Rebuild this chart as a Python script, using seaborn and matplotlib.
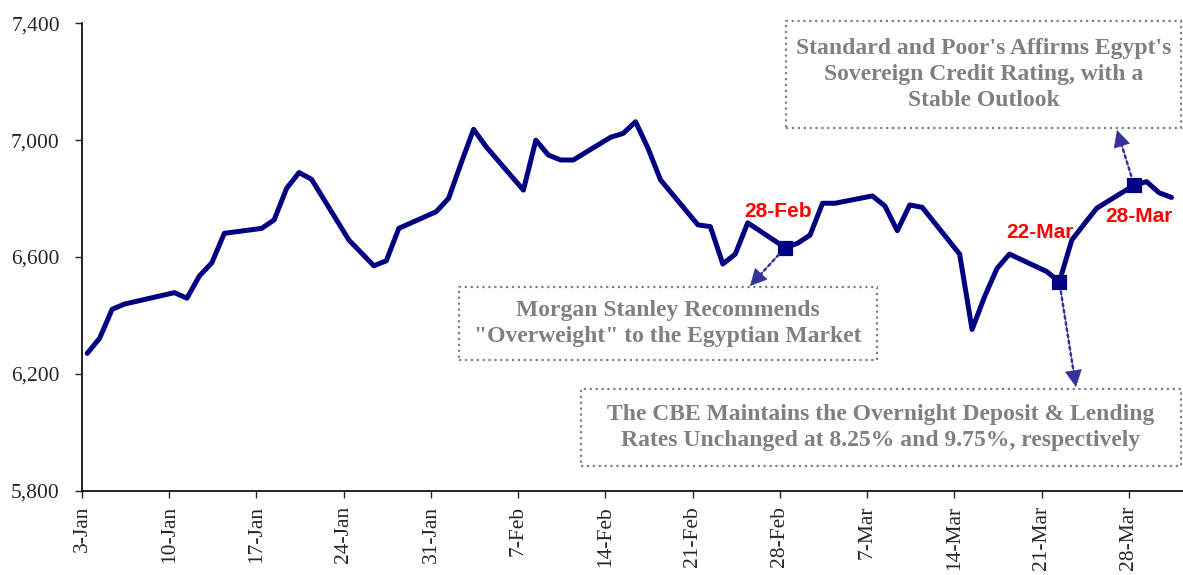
import pandas as pd
import matplotlib.pyplot as plt
from matplotlib.patches import Rectangle
import seaborn as sns

# EGX30 daily closes, Jan-Mar 2010
dates = ['2010-01-03', '2010-01-04', '2010-01-05', '2010-01-06', '2010-01-10',
         '2010-01-11', '2010-01-12', '2010-01-13', '2010-01-14', '2010-01-17',
         '2010-01-18', '2010-01-19', '2010-01-20', '2010-01-21', '2010-01-24',
         '2010-01-26', '2010-01-27', '2010-01-28', '2010-01-31', '2010-02-01',
         '2010-02-02', '2010-02-03', '2010-02-04', '2010-02-07', '2010-02-08',
         '2010-02-09', '2010-02-10', '2010-02-11', '2010-02-14', '2010-02-15',
         '2010-02-16', '2010-02-17', '2010-02-18', '2010-02-21', '2010-02-22',
         '2010-02-23', '2010-02-24', '2010-02-25', '2010-02-28', '2010-03-01',
         '2010-03-02', '2010-03-03', '2010-03-04', '2010-03-07', '2010-03-08',
         '2010-03-09', '2010-03-10', '2010-03-11', '2010-03-14', '2010-03-15',
         '2010-03-16', '2010-03-17', '2010-03-18', '2010-03-21', '2010-03-22',
         '2010-03-23', '2010-03-24', '2010-03-25', '2010-03-28', '2010-03-29',
         '2010-03-30', '2010-03-31']
values = [6270, 6322, 6421, 6439, 6478,
          6459, 6535, 6580, 6681, 6698,
          6727, 6835, 6889, 6866, 6658,
          6570, 6587, 6698, 6755, 6801,
          6921, 7037, 6978, 6829, 7000,
          6949, 6932, 6932, 7010, 7023,
          7063, 6972, 6864, 6710, 6704,
          6576, 6610, 6717, 6632, 6647,
          6675, 6784, 6784, 6809, 6775,
          6690, 6778, 6770, 6610, 6352,
          6464, 6561, 6610, 6550, 6515,
          6658, 6713, 6767, 6846, 6858,
          6820, 6804]

event_dates = ['2010-02-28', '2010-03-22', '2010-03-28']
event_labels = ['28-Feb', '22-Mar', '28-Mar']
notes = ["Morgan Stanley Recommends\n\"Overweight\" to the Egyptian Market",
         "The CBE Maintains the Overnight Deposit & Lending\nRates Unchanged at 8.25% and 9.75%, respectively",
         "Standard and Poor's Affirms Egypt's\nSovereign Credit Rating, with a\nStable Outlook"]

y_ticks = [5800, 6200, 6600, 7000, 7400]
tick_dates = pd.date_range('2010-01-03', '2010-03-28', freq='7D')

W, H = 1183, 575
NAVY = '#000080'

sns.set_style('white')
plt.rcParams['font.family'] = ['Liberation Serif', 'DejaVu Serif']

df = pd.DataFrame({'date': pd.to_datetime(dates), 'value': values})
df['x'] = df['date'] + pd.Timedelta(hours=10)
ev = df[df['date'].isin(pd.to_datetime(event_dates))].reset_index(drop=True)

fig = plt.figure(figsize=(W / 100, H / 100), dpi=100)
ax = fig.add_axes([82 / W, 84.3 / H, 1101 / W, 467.4 / H])

sns.lineplot(data=df, x='x', y='value', color=NAVY, lw=3.6, ax=ax)
sns.scatterplot(data=ev, x='x', y='value', marker='s', s=115, color=NAVY,
                edgecolor=NAVY, zorder=4, ax=ax, legend=False)

ax.set_xlim(pd.Timestamp('2010-01-03'), pd.Timestamp('2010-01-03') + pd.Timedelta(days=88.34))
ax.set_ylim(5800, 7400)
ax.set_xticks(tick_dates)
ax.set_xticklabels([f"{d.day}-{d.strftime('%b')}" for d in tick_dates], rotation=90, fontsize=15.5)
ax.set_yticks(y_ticks)
ax.set_yticklabels([f"{v:,}" for v in y_ticks], fontsize=15.5)
ax.tick_params(axis='y', direction='out', length=5, width=1, pad=11, left=True)
ax.tick_params(axis='x', direction='out', length=5, width=1, pad=6, bottom=True)
ax.set_xlabel('')
ax.set_ylabel('')
sns.despine(ax=ax)
for s in ['left', 'bottom']:
    ax.spines[s].set_color('black')
    ax.spines[s].set_linewidth(1.2)


def ff(px, py):
    return px / W, 1 - py / H


# note boxes (pixel layout of the reference)
boxes = [(459, 287, 877, 360), (581, 389, 1181, 466), (786, 21, 1181, 128)]
tips = [(750, 286), (1076, 387), (1117, 130)]
label_off = [(-7, 36), (-19, 49), (5, -31)]

for i in range(3):
    x0, y0, x1, y1 = boxes[i]
    fig.add_artist(Rectangle(ff(x0, y1), (x1 - x0) / W, (y1 - y0) / H,
                             transform=fig.transFigure, facecolor='white',
                             edgecolor='#808080', ls=':', lw=1.6, zorder=5))
    cx, cy = ff((x0 + x1) / 2, (y0 + y1) / 2)
    fig.text(cx, cy, notes[i], ha='center', va='center', fontsize=17,
             fontweight='bold', color='#808080', linespacing=1.3, zorder=6)
    pt = (ev.loc[i, 'x'], ev.loc[i, 'value'])
    # dotted shaft
    ax.annotate('', xy=ff(*tips[i]), xycoords='figure fraction',
                xytext=pt, textcoords='data',
                arrowprops=dict(arrowstyle='-', color='#333399', lw=1.8,
                                ls=(0, (1, 1.5)), shrinkA=7, shrinkB=6),
                annotation_clip=False, zorder=7)
    # solid head
    ax.annotate('', xy=ff(*tips[i]), xycoords='figure fraction',
                xytext=pt, textcoords='data',
                arrowprops=dict(arrowstyle='-|>,head_length=0.75,head_width=0.38',
                                mutation_scale=15, facecolor='#333399',
                                edgecolor='#333399', lw=0.5, shrinkA=7, shrinkB=0),
                annotation_clip=False, zorder=7)
    ax.annotate(event_labels[i], xy=pt,
                xytext=label_off[i], textcoords='offset pixels',
                ha='center', va='center', fontsize=15, fontweight='bold',
                color='red', family=['Liberation Sans', 'DejaVu Sans'], zorder=6)

fig.savefig('out.png', dpi=100)
